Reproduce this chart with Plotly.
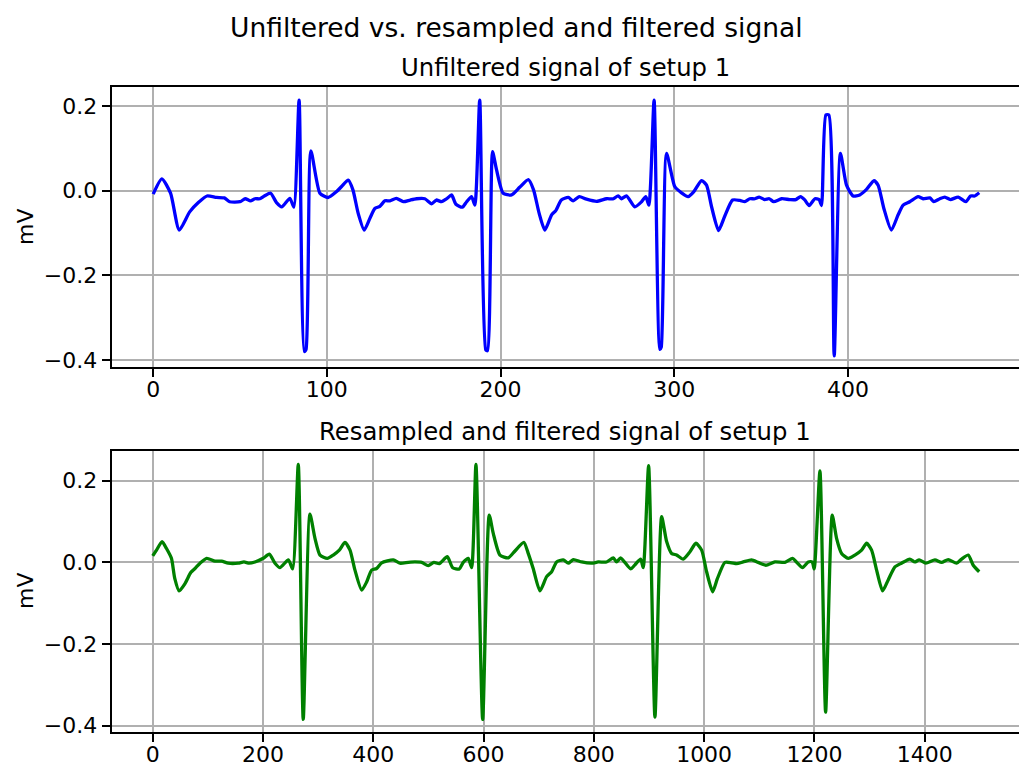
import plotly.graph_objects as go

# ---------------- data ----------------
x_unfiltered = [0, 5, 10, 15, 21, 26, 31, 36.5, 41, 44, 50, 53, 56, 58.6, 61.4, 64, 67.6, 71, 74, 78.7,
                81, 84, 87, 88, 90.8, 96, 100.7, 105.6, 108.5, 112.3, 115, 118, 121.5, 124.8, 127.6,
                130.5, 133.4, 136.3, 140, 144, 148, 151.6, 156.4, 160.3, 163, 166, 169, 171.8, 174.3,
                178, 180.5, 183.3, 185.2, 188, 191.5, 192.5, 195.4, 197.7, 201.5, 206.3, 211, 216, 219,
                222.2, 225.5, 229.4, 231.8, 235, 239, 241.8, 245.3, 249.5, 255.3, 261, 265, 267.7,
                269.6, 272.5, 277.3, 281.2, 283.6, 285.4, 288.4, 291.7, 292.5, 295.6, 300.3, 304.2,
                308, 311.3, 315.7, 318.6, 321.5, 325.5, 329, 333.6, 337.8, 340.6, 343.5, 346.4, 348.9,
                352.1, 354.7, 357.3, 361.8, 366.5, 370, 372.7, 375, 377.7, 381, 383.4, 384.8, 387.3,
                389, 392.1, 395.7, 399.2, 403, 406.8, 410.7, 415, 417.4, 420.7, 425, 428.9, 431.8,
                435.6, 440.4, 443.3, 447.2, 449.4, 452.9, 455.8, 459, 463.5, 467.9, 470.6, 473, 475.6]
y_unfiltered = [-0.008, 0.028, -0.006, -0.093, -0.05, -0.028, -0.0125, -0.016, -0.017, -0.026, -0.026,
                -0.019, -0.024, -0.019, -0.019, -0.0125, -0.006, -0.028, -0.038, -0.018, -0.039, 0.214,
                -0.38, -0.375, 0.094, -0.006, -0.016, -0.002, 0.01, 0.025, 0.002, -0.053, -0.093,
                -0.065, -0.042, -0.037, -0.024, -0.024, -0.018, -0.026, -0.022, -0.019, -0.019, -0.031,
                -0.022, -0.026, -0.019, -0.01, -0.032, -0.039, -0.026, -0.014, -0.034, 0.214, -0.376,
                -0.378, 0.092, 0.049, -0.006, -0.01, 0.008, 0.026, 0.002, -0.053, -0.093, -0.057,
                -0.047, -0.022, -0.016, -0.024, -0.014, -0.02, -0.025, -0.019, -0.019, -0.012, -0.019,
                -0.012, -0.038, -0.026, -0.014, -0.034, 0.214, -0.375, -0.37, 0.088, 0.01, -0.005,
                -0.014, -0.002, 0.024, 0.013, -0.038, -0.094, -0.061, -0.022, -0.023, -0.026, -0.019,
                -0.019, -0.015, -0.021, -0.019, -0.026, -0.019, -0.021, -0.021, -0.014, -0.021, -0.035,
                -0.019, -0.021, -0.035, 0.179, 0.179, -0.39, 0.088, 0.013, -0.0125, -0.01, 0.003,
                0.024, 0.013, -0.042, -0.093, -0.057, -0.034, -0.026, -0.014, -0.019, -0.017, -0.026,
                -0.019, -0.015, -0.021, -0.015, -0.026, -0.0125, -0.0125, -0.005]

x_filtered = [0, 7, 17, 25, 34, 40, 48, 58.6, 69, 76.7, 85.8, 98, 113, 125, 137, 155, 165.5, 175, 185.5,
              200.5, 211.5, 221.8, 230.8, 246, 253.8, 264, 273, 285.2, 294.3, 303.4, 316.6, 327.5,
              338.4, 348.7, 357.8, 366.8, 379, 388, 397, 406, 415.2, 436.3, 448.4, 463.5, 475.6, 487.7,
              499.7, 510, 519.7, 534.2, 544, 556, 563.2, 572.3, 578.4, 586.2, 598.4, 610.3, 617.6,
              629.7, 644.8, 657, 673, 681, 690, 702.3, 714.4, 723.5, 732.5, 744.5, 753.6, 762.7, 777.9,
              796, 808, 823, 835.2, 841.3, 848.6, 866.7, 874.5, 884.8, 889.6, 899.3, 910.8, 923, 932,
              941, 950, 962, 974.3, 985.1, 995.5, 1004.5, 1015.4, 1024, 1037.7, 1049.9, 1058.9,
              1070.9, 1086, 1098, 1112, 1128.4, 1146.5, 1160.5, 1168, 1178.6, 1188.8, 1196, 1199.6,
              1210, 1220.3, 1232.3, 1240.2, 1249.3, 1261.3, 1273.4, 1285.6, 1294.6, 1303.7, 1312.8,
              1323.6, 1333.8, 1346, 1358, 1373, 1382, 1390, 1402, 1418.5, 1430.6, 1442.6, 1457.8,
              1466.9, 1478.9, 1488, 1498.8]
y_filtered = [0.016, 0.03, 0.051, 0.034, 0.01, -0.039, -0.07, -0.052, -0.025, -0.015, -0.002, 0.01,
              0.003, 0.003, -0.002, -0.002, 0.001, -0.002, 0.001, 0.01, 0.02, -0.002, -0.013, 0.006,
              -0.016, 0.24, -0.385, 0.118, 0.059, 0.018, 0.01, 0.018, 0.03, 0.049, 0.03, -0.019,
              -0.068, -0.048, -0.019, -0.015, -0.001, 0.006, -0.002, 0.0, 0.001, 0.0, -0.008, 0.0,
              -0.003, 0.014, -0.013, -0.016, 0.0, 0.01, -0.013, 0.24, -0.385, 0.116, 0.071, 0.018,
              0.011, 0.028, 0.049, 0.022, -0.015, -0.07, -0.035, -0.023, 0.001, 0.006, -0.002, 0.007,
              0.001, -0.002, 0.001, 0.001, 0.011, 0.001, 0.011, -0.016, -0.006, 0.008, -0.013, 0.237,
              -0.379, 0.112, 0.051, 0.022, 0.018, 0.008, 0.026, 0.047, 0.03, -0.023, -0.072, -0.04,
              0.0, -0.001, -0.003, 0.001, 0.006, 0.0, -0.007, 0.001, 0.0, 0.01, 0.0, -0.013, 0.001,
              0.001, -0.016, 0.224, -0.367, 0.116, 0.059, 0.022, 0.01, 0.018, 0.03, 0.047, 0.03,
              -0.019, -0.07, -0.043, -0.011, -0.002, 0.008, 0.001, 0.006, -0.002, 0.006, 0.0, 0.007,
              -0.002, 0.008, 0.018, -0.007, -0.023]

x_ticks_top = [0, 100, 200, 300, 400]
x_ticks_bottom = [0, 200, 400, 600, 800, 1000, 1200, 1400]
y_ticks = [-0.4, -0.2, 0.0, 0.2]
y_ticktext = ["\u22120.4", "\u22120.2", "0.0", "0.2"]

suptitle = "Unfiltered vs. resampled and filtered signal"
title_top = "Unfiltered signal of setup 1"
title_bottom = "Resampled and filtered signal of setup 1"
y_label = "mV"

# ---------------- figure ----------------
W, H = 1019, 771
FONT = "DejaVu Sans"

fig = go.Figure()
fig.add_trace(go.Scatter(x=x_unfiltered, y=y_unfiltered, mode="lines",
                         line=dict(color="#0000ff", width=3.3, shape="spline", smoothing=0.6),
                         xaxis="x", yaxis="y", hoverinfo="skip"))
fig.add_trace(go.Scatter(x=x_filtered, y=y_filtered, mode="lines",
                         line=dict(color="#008000", width=3.3, shape="spline", smoothing=0.6),
                         xaxis="x2", yaxis="y2", hoverinfo="skip"))

common = dict(showline=True, linecolor="black", linewidth=1.8, ticks="outside", ticklen=8,
              tickwidth=1.8, tickcolor="black", showgrid=True, gridcolor="#b0b0b0", gridwidth=1.8,
              zeroline=False, tickfont=dict(family=FONT, size=22, color="black"), automargin=False)

x_dom = [111.5 / W, 1.0]
top_dom = [1 - 367 / H, 1 - 87 / H]
bot_dom = [1 - 731.7 / H, 1 - 451 / H]

fig.update_layout(
    width=W, height=H, margin=dict(l=0, r=0, t=0, b=0),
    paper_bgcolor="white", plot_bgcolor="white", showlegend=False,
    font=dict(family=FONT, size=22, color="black"),
    xaxis=dict(domain=x_dom, anchor="y", range=[-24.0, 498.5], tickvals=x_ticks_top,
               mirror=True, ticklabelstandoff=-6, **common),
    yaxis=dict(domain=top_dom, anchor="x", range=[-0.4165, 0.245], tickvals=y_ticks,
               ticktext=y_ticktext, mirror=False, **common),
    xaxis2=dict(domain=x_dom, anchor="y2", range=[-74.7, 1571], tickvals=x_ticks_bottom,
                mirror=True, ticklabelstandoff=-6, **common),
    yaxis2=dict(domain=bot_dom, anchor="x2", range=[-0.415, 0.273], tickvals=y_ticks,
                ticktext=y_ticktext, mirror=False, **common),
)

ann = [
    dict(text=suptitle, x=516 / W, y=1 - 28 / H, font=dict(size=26.5)),
    dict(text=title_top, x=(111.5 + 1019) / 2 / W, y=1 - 67 / H, font=dict(size=24.3)),
    dict(text=title_bottom, x=(111.5 + 1019) / 2 / W, y=1 - 431 / H, font=dict(size=24.3)),
    dict(text=y_label, x=25 / W, y=1 - 227 / H, textangle=-90, font=dict(size=22)),
    dict(text=y_label, x=25 / W, y=1 - 591 / H, textangle=-90, font=dict(size=22)),
]
for a in ann:
    fig.add_annotation(xref="paper", yref="paper", showarrow=False, xanchor="center",
                       yanchor="middle", **a)

fig.write_html("out.html")
